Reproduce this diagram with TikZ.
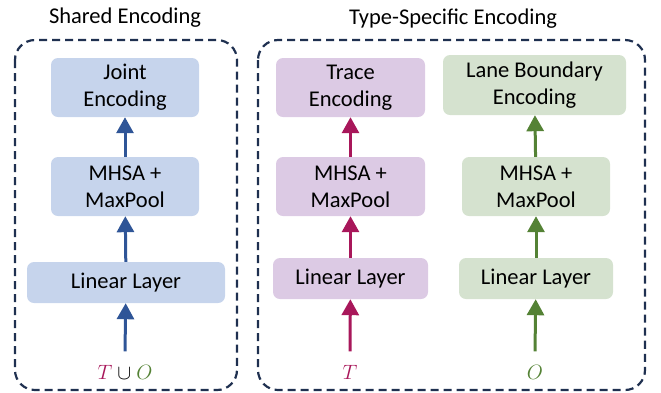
\documentclass[tikz,border=0pt]{standalone}
\usepackage{fontspec}
\setmainfont{Carlito}
\usepackage{tikz}
\usetikzlibrary{arrows.meta}
\definecolor{boxblue}{HTML}{C6D4EC}
\definecolor{boxpurple}{HTML}{DCCAE4}
\definecolor{boxgreen}{HTML}{D5E2CF}
\definecolor{arrblue}{HTML}{2F5597}
\definecolor{arrred}{HTML}{A8175A}
\definecolor{arrgreen}{HTML}{548235}
\definecolor{framenavy}{HTML}{1F3050}

\begin{document}
\begin{tikzpicture}[x=1pt,y=-1pt,
  font=\fontsize{22.5}{27}\selectfont,
  block/.style={rectangle,rounded corners=7pt,align=center,inner sep=0pt},
  frame/.style={draw=framenavy,line width=2.2pt,dash pattern=on 8pt off 5pt,rounded corners=20pt},
  flow/.style={line width=3pt,-{Triangle[width=17pt,length=16pt]}}]
  \useasboundingbox (0,0) rectangle (661,392);
  % titles
  \node (tshared) at (125,18) {Shared Encoding};
  \node (tspecific) at (453,19) {Type-Specific Encoding};
  \draw[frame] (15,40) rectangle (237,390);
  \draw[frame] (258,40) rectangle (645,390);
  % shared column
  \node[block,fill=boxblue,minimum width=148,minimum height=59] (joint) at (125,87.5) {Joint\\Encoding};
  \node[block,fill=boxblue,minimum width=148,minimum height=59] (mhsaL) at (125,186.5) {MHSA +\\MaxPool};
  \node[block,fill=boxblue,minimum width=198,minimum height=41] (linL) at (126,282.5) {Linear Layer};
  \node (inL) at (125,372) {$\color{arrred}T$ $\cup$ $\color{arrgreen}O$};
  % trace column
  \node[block,fill=boxpurple,minimum width=149,minimum height=59] (trace) at (350.5,87.5) {Trace\\Encoding};
  \node[block,fill=boxpurple,minimum width=149,minimum height=59] (mhsaT) at (350.5,186.5) {MHSA +\\MaxPool};
  \node[block,fill=boxpurple,minimum width=155,minimum height=41] (linT) at (350.5,278.5) {Linear Layer};
  \node[text=arrred] (inT) at (350,372) {$T$};
  % lane boundary column
  \node[block,fill=boxgreen,minimum width=183,minimum height=60] (lane) at (534.5,85) {Lane Boundary\\Encoding};
  \node[block,fill=boxgreen,minimum width=148,minimum height=59] (mhsaO) at (536,186.5) {MHSA +\\MaxPool};
  \node[block,fill=boxgreen,minimum width=154,minimum height=41] (linO) at (536,278.5) {Linear Layer};
  \node[text=arrgreen] (inO) at (535,372) {$O$};
  % arrows
  \draw[flow,arrblue] ([yshift=10]inL.north) -- (linL);
  \draw[flow,arrblue] (linL) -- (mhsaL);
  \draw[flow,arrblue] (mhsaL) -- (joint);
  \draw[flow,arrred] ([yshift=10]inT.north) -- (linT);
  \draw[flow,arrred] (linT) -- (mhsaT);
  \draw[flow,arrred] (mhsaT) -- (trace);
  \draw[flow,arrgreen] ([yshift=10]inO.north) -- (linO);
  \draw[flow,arrgreen] (linO) -- (mhsaO);
  \draw[flow,arrgreen] (mhsaO) -- (lane);
\end{tikzpicture}
\end{document}
